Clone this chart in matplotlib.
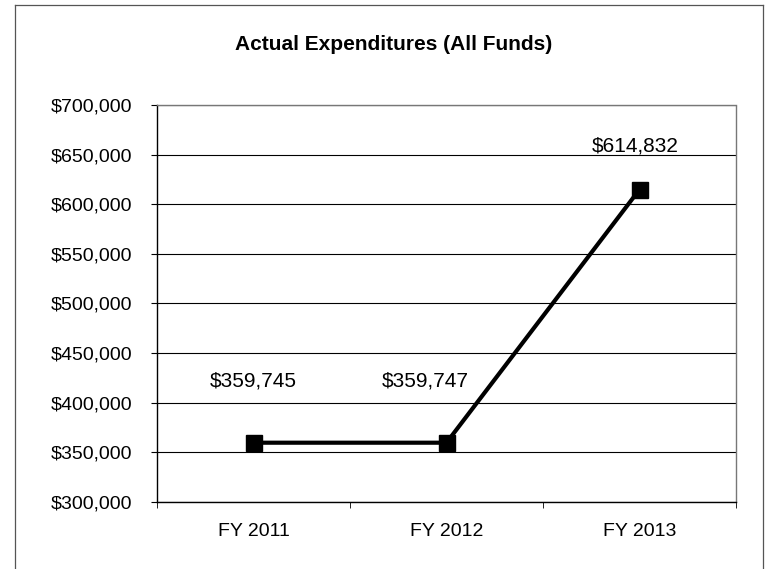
import matplotlib
matplotlib.use("Agg")
import matplotlib.pyplot as plt
from matplotlib.ticker import FuncFormatter, FixedLocator
from matplotlib.lines import Line2D

plt.rcParams['font.family'] = ['Liberation Sans', 'DejaVu Sans']

years = ["FY 2011", "FY 2012", "FY 2013"]
spend = [359745, 359747, 614832]
labels = ["$359,745", "$359,747", "$614,832"]

W, H = 771, 569
fig = plt.figure(figsize=(W / 100, H / 100), dpi=100)
ax = fig.add_axes([157 / W, 1 - 502 / H, (736 - 157) / W, (502 - 105) / H])

x = list(range(len(years)))
ax.plot(x, spend, color='black', lw=3, marker='s', ms=11, zorder=3)

ax.set_xlim(-0.5, 2.5)
ax.set_ylim(300000, 700000)
ax.set_yticks(range(300000, 700001, 50000))
ax.yaxis.set_major_formatter(FuncFormatter(lambda v, p: "${:,.0f}".format(v)))
ax.grid(axis='y', color='black', lw=0.8)
ax.set_axisbelow(True)

ax.set_xticks(x)
ax.set_xticklabels(years)
ax.xaxis.set_minor_locator(FixedLocator([-0.5, 0.5, 1.5, 2.5]))
ax.tick_params(axis='x', which='major', length=0, pad=15, labelsize=14)
ax.tick_params(axis='x', which='minor', length=4, direction='out')
ax.tick_params(axis='y', length=4, direction='out', labelsize=14, pad=14)

for s in ['top', 'right']:
    ax.spines[s].set_color('#777777')
    ax.spines[s].set_linestyle((0, (1, 1)))
    ax.spines[s].set_linewidth(1.0)
ax.spines['left'].set_linewidth(1.0)
ax.spines['bottom'].set_linewidth(1.0)

# data labels (offsets in pixels)
offs = [(0, 62), (-21, 62), (-4, 44)]
for xi, yi, t, (dx, dy) in zip(x, spend, labels, offs):
    ax.annotate(t, (xi, yi), xytext=(dx, dy), textcoords='offset pixels',
                ha='center', va='center', fontsize=15)

fig.text(394 / W, 1 - 45 / H, "Actual Expenditures (All Funds)",
         ha='center', va='center', fontsize=15, fontweight='bold')

# outer chart border
for xs, ys in [([15, 15], [5, H]), ([15, 763], [5, 5]), ([763, 763], [5, H])]:
    fig.add_artist(Line2D([v / W for v in xs], [1 - v / H for v in ys],
                          color='#555555', lw=0.9, transform=fig.transFigure))

fig.savefig("out.png", dpi=100)
